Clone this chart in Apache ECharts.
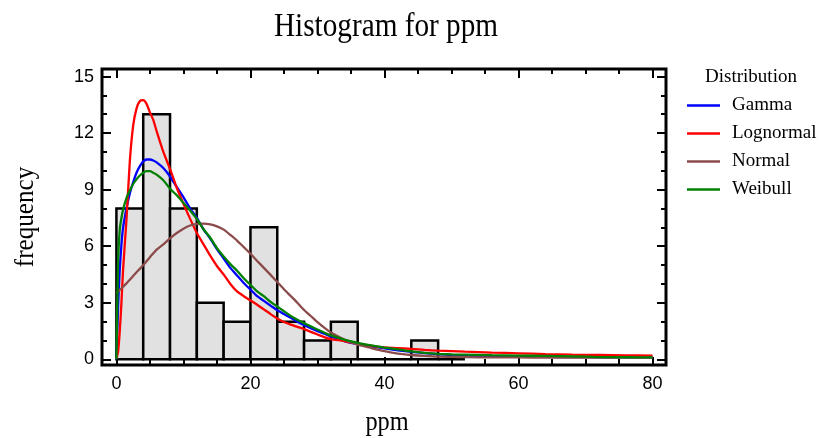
<!DOCTYPE html>
<html><head><meta charset="utf-8">
<script src="https://cdn.jsdelivr.net/npm/echarts@6/dist/echarts.min.js"></script>
<style>html,body{margin:0;padding:0;background:#fff}#c{width:822px;height:438px}</style>
</head><body><div id="c"></div>
<script>
// Histogram classes
const binLo    = [0, 4, 8, 12, 16, 20, 24, 28, 32, 36, 40, 44, 48];
const binHi    = [4, 8, 12, 16, 20, 24, 28, 32, 36, 40, 44, 48, 52];
const binCount = [8, 13, 8, 3, 2, 7, 2, 1, 2, 0, 0, 1, 0];

// Fitted distribution curves (scaled to frequency)
const xs        = [0, 0.25, 0.5, 0.75, 1, 1.5, 2, 2.5, 3, 3.5, 4, 4.5, 5, 5.5, 6, 7, 8, 9, 10, 11, 12, 13, 14, 15, 16, 17, 18, 19, 20, 21, 22, 23, 24, 25, 26, 27, 28, 29, 30, 31, 32, 34, 36, 38, 40, 42, 44, 46, 48, 50, 52, 56, 60, 64, 68, 72, 76, 80];
const gamma     = [0, 2.8, 4.8, 6.1, 7.0, 8.0, 8.8, 9.4, 9.9, 10.25, 10.5, 10.6, 10.6, 10.55, 10.45, 10.15, 9.7, 9.15, 8.6, 8.0, 7.5, 6.9, 6.4, 5.85, 5.35, 4.85, 4.45, 4.05, 3.7, 3.35, 3.1, 2.85, 2.6, 2.4, 2.2, 2.0, 1.82, 1.65, 1.5, 1.36, 1.21, 0.97, 0.81, 0.69, 0.58, 0.48, 0.4, 0.33, 0.27, 0.23, 0.2, 0.17, 0.15, 0.13, 0.12, 0.11, 0.1, 0.1];
const lognormal = [0.05, 0.4, 1.5, 3.0, 4.8, 7.4, 10.5, 12.4, 13.3, 13.7, 13.75, 13.55, 13.1, 12.7, 12.1, 11.0, 10.1, 9.1, 8.25, 7.45, 6.7, 6.1, 5.5, 4.95, 4.5, 4.0, 3.6, 3.35, 3.12, 2.9, 2.65, 2.4, 2.17, 1.98, 1.84, 1.72, 1.6, 1.46, 1.32, 1.18, 1.07, 0.97, 0.82, 0.72, 0.64, 0.6, 0.55, 0.5, 0.46, 0.44, 0.41, 0.36, 0.32, 0.28, 0.25, 0.23, 0.21, 0.2];
const normal    = [3.5, 3.6, 3.68, 3.77, 3.85, 4.03, 4.22, 4.42, 4.62, 4.8, 5.0, 5.2, 5.42, 5.62, 5.82, 6.1, 6.42, 6.7, 6.93, 7.1, 7.18, 7.2, 7.16, 7.05, 6.88, 6.6, 6.3, 5.95, 5.6, 5.22, 4.85, 4.48, 4.1, 3.72, 3.36, 3.0, 2.62, 2.3, 1.97, 1.68, 1.42, 1.05, 0.78, 0.6, 0.43, 0.3, 0.23, 0.18, 0.14, 0.13, 0.12, 0.1, 0.1, 0.09, 0.09, 0.09, 0.09, 0.09];
const weibull   = [0, 5.2, 6.9, 7.5, 7.95, 8.55, 8.95, 9.3, 9.55, 9.75, 9.9, 9.98, 9.98, 9.9, 9.8, 9.5, 9.05, 8.7, 8.3, 7.9, 7.45, 6.9, 6.45, 5.9, 5.45, 5.05, 4.7, 4.3, 3.95, 3.6, 3.35, 3.05, 2.8, 2.55, 2.3, 2.1, 1.92, 1.75, 1.58, 1.42, 1.27, 1.05, 0.88, 0.74, 0.62, 0.53, 0.42, 0.34, 0.29, 0.26, 0.25, 0.22, 0.2, 0.18, 0.16, 0.12, 0.11, 0.1];

const seriesNames = ['Gamma', 'Lognormal', 'Normal', 'Weibull'];
const seriesColors = ['#0000ff', '#ff0000', '#8c4b4b', '#008000'];
const seriesValues = [gamma, lognormal, normal, weibull];

// Axis ticks
const xMajorTicks = [0, 20, 40, 60, 80];
const xMinorTicks = [5, 10, 15, 25, 30, 35, 45, 50, 55, 65, 70, 75];
const yMajorTicks = [0, 3, 6, 9, 12, 15];
const yMinorTicks = [1, 2, 4, 5, 7, 8, 10, 11, 13, 14];

const X_MIN = -2.15, X_MAX = 82.0, Y_MIN = -0.3, Y_MAX = 15.4;
const tickFont = '"Liberation Sans Narrow", "Liberation Sans", Arial, sans-serif';
const serif = '"Liberation Serif", "Times New Roman", serif';

function mkAxis(kind, pos, ticks, len, labels) {
  const a = {
    type: 'value', position: pos,
    min: kind === 'x' ? X_MIN : Y_MIN, max: kind === 'x' ? X_MAX : Y_MAX,
    axisLine: { show: false, onZero: false },
    splitLine: { show: false },
    axisTick: { show: true, inside: true, length: len, customValues: ticks,
      lineStyle: { color: '#000', width: 2 } },
    axisLabel: { show: false }
  };
  if (labels) {
    a.axisLabel = { show: true, customValues: ticks, color: '#000',
      fontFamily: tickFont, fontSize: 18, margin: kind === 'x' ? 10 : 8 };
  }
  return a;
}

const chart = echarts.init(document.getElementById('c'), null, { renderer: 'canvas' });

const lineSeries = seriesNames.map((name, i) => ({
  name: name, type: 'line', xAxisIndex: 0, yAxisIndex: 0,
  data: xs.map((x, j) => [x, seriesValues[i][j]]),
  symbol: 'none', smooth: 0.2,
  lineStyle: { color: seriesColors[i], width: 2.3 },
  itemStyle: { color: seriesColors[i] },
  z: 5 + i
}));

chart.setOption({
  animation: false,
  backgroundColor: '#fff',
  grid: { left: 102, right: 156, top: 69, bottom: 73, show: true,
    borderColor: '#000', borderWidth: 3, backgroundColor: 'transparent' },
  xAxis: [
    mkAxis('x', 'bottom', xMajorTicks, 8, true),
    mkAxis('x', 'bottom', xMinorTicks, 6, false),
    mkAxis('x', 'top', xMajorTicks, 9, false),
    mkAxis('x', 'top', xMinorTicks, 5, false)
  ],
  yAxis: [
    mkAxis('y', 'left', yMajorTicks, 9, true),
    mkAxis('y', 'left', yMinorTicks, 5, false),
    mkAxis('y', 'right', yMajorTicks, 9, false),
    mkAxis('y', 'right', yMinorTicks, 5, false)
  ],
  legend: {
    data: seriesNames, orient: 'vertical', left: 687, top: 96, padding: 0,
    icon: 'rect', itemWidth: 33, itemHeight: 2.5, itemGap: 9,
    textStyle: { fontFamily: serif, fontSize: 19, color: '#000', padding: [0, 0, 0, 7] }
  },
  graphic: [
    { type: 'text', x: 386, y: 27, scaleX: 0.86,
      style: { text: 'Histogram for ppm', font: '34px ' + serif, fill: '#000', align: 'center', verticalAlign: 'middle' } },
    { type: 'text', x: 751, y: 77,
      style: { text: 'Distribution', font: '19px ' + serif, fill: '#000', align: 'center', verticalAlign: 'middle' } },
    { type: 'text', x: 26, y: 217, rotation: Math.PI / 2, scaleX: 0.93,
      style: { text: 'frequency', font: '27px ' + serif, fill: '#000', align: 'center', verticalAlign: 'middle' } },
    { type: 'text', x: 387, y: 423, scaleX: 0.9,
      style: { text: 'ppm', font: '27px ' + serif, fill: '#000', align: 'center', verticalAlign: 'middle' } }
  ],
  series: [
    {
      type: 'custom', name: 'hist', xAxisIndex: 0, yAxisIndex: 0, z: 2,
      data: binLo.map((lo, i) => [lo, binHi[i], binCount[i]]),
      encode: { x: [0, 1], y: 2 },
      renderItem: function (params, api) {
        const p0 = api.coord([api.value(0), api.value(2)]);
        const p1 = api.coord([api.value(1), 0]);
        return { type: 'rect',
          shape: { x: p0[0], y: p0[1], width: p1[0] - p0[0], height: p1[1] - p0[1] },
          style: { fill: '#e1e1e1', stroke: '#000', lineWidth: 2.5 } };
      }
    }
  ].concat(lineSeries)
});
</script></body></html>
